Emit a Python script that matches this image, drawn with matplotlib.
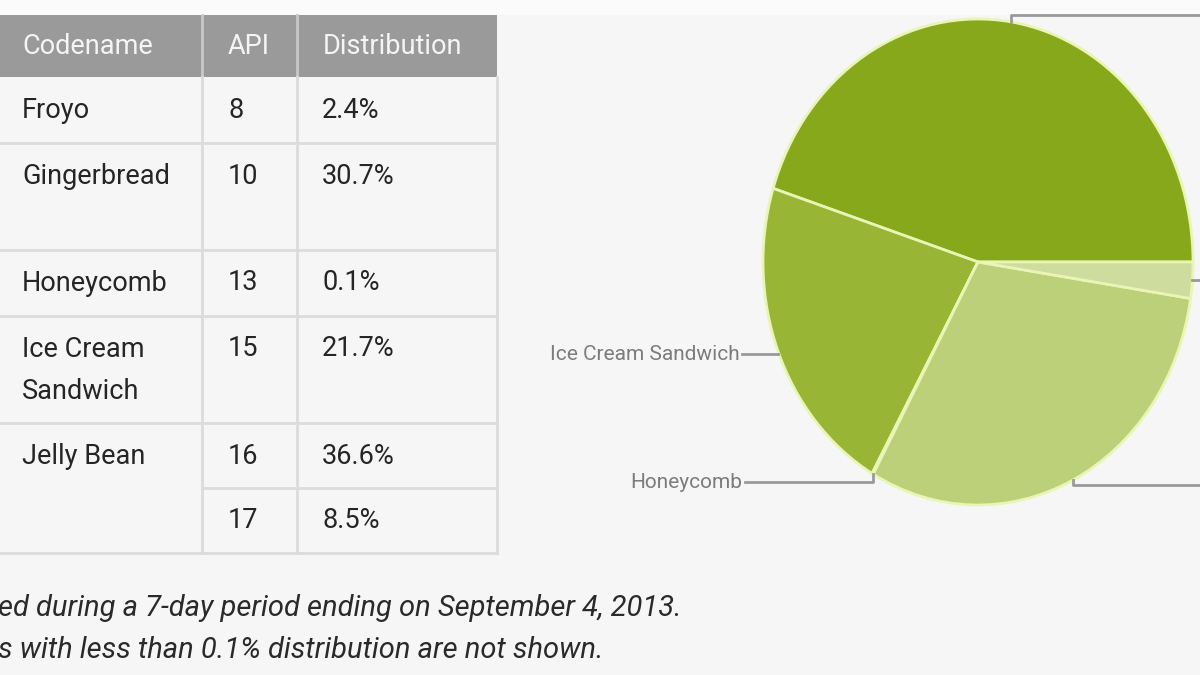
import numpy as np
import matplotlib
matplotlib.use("Agg")
import matplotlib.pyplot as plt
from matplotlib.patches import Rectangle

# table data
headers = ["Codename", "API", "Distribution"]
codenames = ["Froyo", "Gingerbread", "Honeycomb", "Ice Cream\nSandwich", "Jelly Bean", ""]
apis = ["8", "10", "13", "15", "16", "17"]
dist = [2.4, 30.7, 0.1, 21.7, 36.6, 8.5]

# pie data (Jelly Bean 16 + 17 merged), drawn counterclockwise from 3 o'clock
pie_labels = ["Jelly Bean", "Ice Cream Sandwich", "Honeycomb", "Gingerbread", "Froyo"]
pie_values = [dist[4] + dist[5], dist[3], dist[2], dist[1], dist[0]]
pie_colors = ["#87a81b", "#98b535", "#a9c255", "#bccf79", "#cedc9e"]

footnote = ["ed during a 7-day period ending on September 4, 2013.",
            "s with less than 0.1% distribution are not shown."]

W, H = 1200, 675
BG = "#f6f6f6"
GRID = "#dcdcdc"
TXT = "#252525"

fig = plt.figure(figsize=(12, 6.75), dpi=100, facecolor=BG)

# pixel-space axes for the table and footnote
bg = fig.add_axes([0, 0, 1, 1])
bg.set_xlim(0, W)
bg.set_ylim(H, 0)
bg.axis("off")
bg.add_patch(Rectangle((0, 0), W, 14, color="#fbfbfb", zorder=0))

col_x = [0, 202, 297, 497]
row_y = [77, 143, 250, 316, 423, 488, 553]
head_top = 15

# header
bg.add_patch(Rectangle((0, head_top), col_x[-1], row_y[0] - head_top,
                       facecolor="#9a9a9a", edgecolor="none", zorder=1))
for x in col_x[1:3]:
    bg.plot([x, x], [head_top, row_y[0]], color="#c9c9c9", lw=2, zorder=2)
for i, h in enumerate(headers):
    bg.text(col_x[i] + (22 if i == 0 else 26), (head_top + row_y[0]) / 2 + 1, h,
            color="#f5f5f5", fontsize=19.5, family="Roboto", va="center", ha="left", zorder=3)

# body grid
for x in col_x[1:]:
    bg.plot([x, x], [row_y[0], row_y[-1]], color=GRID, lw=2, zorder=2)
for j, y in enumerate(row_y[1:]):
    x0 = col_x[1] if j == 4 else 0
    bg.plot([x0, col_x[-1]], [y, y], color=GRID, lw=2, zorder=2)

# body text
for j in range(len(apis)):
    ty = row_y[j] + 33
    if codenames[j]:
        bg.text(22, ty - 13, codenames[j], color=TXT, fontsize=19.5, family="Roboto",
                va="top", ha="left", linespacing=1.7, zorder=3)
    bg.text(228, ty, apis[j], color=TXT, fontsize=19.5, family="Roboto",
            va="center", ha="left", zorder=3)
    bg.text(322, ty, f"{dist[j]}%", color=TXT, fontsize=19.5, family="Roboto",
            va="center", ha="left", zorder=3)

# footnote
for k, line in enumerate(footnote):
    bg.text(-2, 608 + 42 * k, line, color="#2a2a2a", fontsize=21, family="Roboto",
            style="italic", va="center", ha="left", zorder=3)

# pie (stretched into an ellipse like the reference)
cx, cy, rx, ry = 978, 262, 215, 243
pax = fig.add_axes([(cx - rx) / W, (H - cy - ry) / H, 2 * rx / W, 2 * ry / H])
wedges, _ = pax.pie(pie_values, colors=pie_colors, startangle=0, counterclock=True,
                    wedgeprops=dict(edgecolor="#e8f5b4", linewidth=2))
pax.set_aspect("auto")
pax.set_xlim(-1, 1)
pax.set_ylim(-1, 1)
pax.axis("off")


def to_data(px=None, py=None):
    dx = None if px is None else (px - cx) / rx
    dy = None if py is None else (cy - py) / ry
    return dx, dy


LEAD = "#9a9a9a"
LBL = "#7c7c7c"
mids = [np.deg2rad((w.theta1 + w.theta2) / 2) for w in wedges]
pts = [(np.cos(a), np.sin(a)) for a in mids]

# Jelly Bean: up then right
x0, y0 = pts[0]
_, yy = to_data(py=15)
pax.plot([x0, x0, 1.3], [y0, yy, yy], color=LEAD, lw=2, clip_on=False)

# Ice Cream Sandwich: left
x0, y0 = pts[1]
_, yy = to_data(py=354)
xl, _ = to_data(px=742)
pax.plot([x0, xl], [yy, yy], color=LEAD, lw=2, clip_on=False)
pax.text(xl - 0.012, yy, pie_labels[1], color=LBL, fontsize=15, family="Roboto",
         ha="right", va="center")

# Honeycomb: down then left
x0, y0 = pts[2]
_, yy = to_data(py=482)
xl, _ = to_data(px=745)
pax.plot([x0, x0, xl], [y0, yy, yy], color=LEAD, lw=2, clip_on=False)
pax.text(xl - 0.012, yy, pie_labels[2], color=LBL, fontsize=15, family="Roboto",
         ha="right", va="center")

# Gingerbread: down then right
x0, y0 = pts[3]
_, yy = to_data(py=485)
pax.plot([x0, x0, 1.3], [y0, yy, yy], color=LEAD, lw=2, clip_on=False)

# Froyo: right
x0, y0 = pts[4]
pax.plot([x0, 1.3], [y0, y0], color=LEAD, lw=2, clip_on=False)

fig.savefig("out.png", dpi=100, facecolor=BG)
